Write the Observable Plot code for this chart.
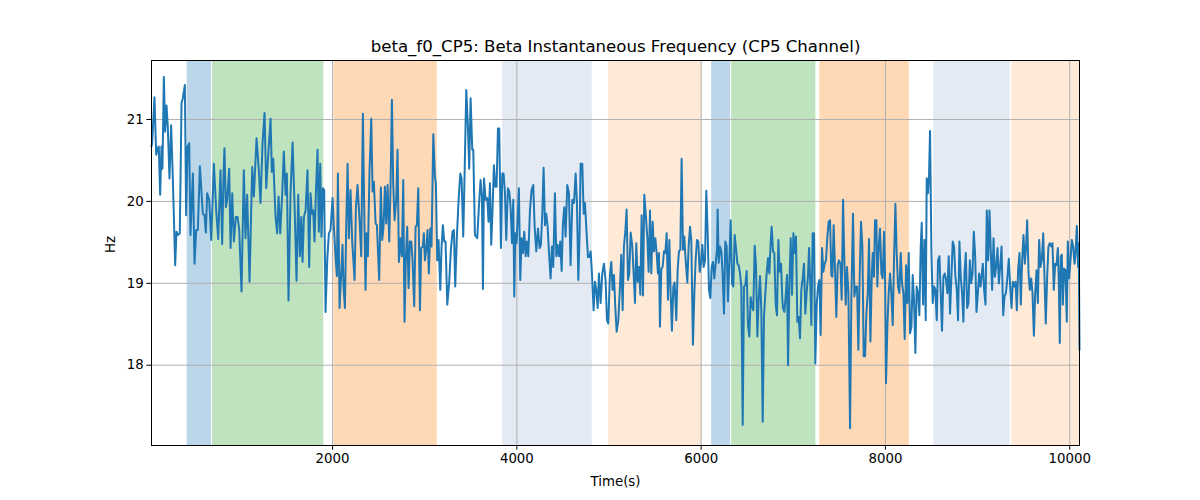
<!DOCTYPE html>
<html><head><meta charset="utf-8">
<script src="https://cdn.jsdelivr.net/npm/d3@7"></script>
<script src="https://cdn.jsdelivr.net/npm/@observablehq/plot@0.6"></script>
<style>body{margin:0;background:#fff} #chart svg{display:block}</style>
</head><body><div id="chart"></div>
<script>
const title = "beta_f0_CP5: Beta Instantaneous Frequency (CP5 Channel)";
const xLabel = "Time(s)";
const yLabel = "Hz";
const xTicks = [2000, 4000, 6000, 8000, 10000];
const yTicks = [18, 19, 20, 21];
const xDomain = [35, 10106];
const yDomain = [17.02, 21.72];

const spanStart = [422, 697, 2014, 3845, 4996, 6114, 6331, 7288, 8524, 9371];
const spanEnd   = [686, 1905, 3136, 4819, 6013, 6320, 7245, 8260, 9353, 10106];
const spanKind  = ["blue", "green", "orange", "blueLight", "orangeLight", "blue", "green", "orange", "blueLight", "orangeLight"];

const timeSec = [
35,42,67,86,104,114,129,143,154,169,183,198,212,230,248,266,292,306,321,342,361,375,397,411,426,444,458,484,502,520,538,560,592,610,625,639,661,683,712,737,759,784,802,817,827,842,856,878,893,911,929,950,969,987,1012,
1037,1055,1073,1099,1128,1146,1175,1200,1218,1240,1262,1280,1298,1327,1341,1356,1381,1399,1414,1432,1453,1471,1490,1504,1522,1544,1566,1587,1609,1627,1645,1660,1674,1689,1707,1728,1746,1761,1775,1790,1804,1819,1837,1851,1866,1880,1895,1909,1924,1942,1960,1978,2000,
2014,2032,2047,2058,2076,2094,2108,2119,2134,2148,2163,2177,2195,2213,2239,2253,2271,2293,2311,2329,2343,2358,2369,2383,2401,2420,2434,2448,2467,2481,2506,2524,2539,2553,2568,2582,2597,2615,2629,2644,2658,2673,2691,2705,2720,2738,2752,2767,2781,2796,2810,2825,2839,2854,2868,2886,2901,2915,2930,2948,2962,2980,2991,
3002,3017,3031,3045,3060,3074,3093,3111,3121,3136,3150,3169,3183,3197,3212,3226,3245,3266,3284,3302,3317,3331,3349,3368,3386,3400,3418,3433,3451,3469,3483,3498,3516,3527,3545,3570,3588,3606,3621,3632,3643,3661,3679,3693,3708,3722,3737,3751,3766,3780,3795,3809,3827,3842,3856,3871,3885,3903,3918,3932,3947,3961,
3972,3983,3997,4022,4037,4051,4066,4080,4095,4109,4124,4142,4160,4178,4193,4211,4229,4247,4261,4276,4290,4305,4319,4334,4348,4366,4381,4395,4413,4428,4442,4457,4471,4486,4500,4515,4529,4547,4565,4583,4602,4620,4638,4652,4667,4681,4692,4710,4725,4739,4757,4772,4786,4801,4815,4833,4848,4862,4877,4891,4909,4927,4945,
4963,4978,4992,5010,5025,5039,5054,5068,5083,5101,5119,5133,5148,5162,5177,5191,5206,5220,5235,5253,5267,5282,5296,5311,5325,5340,5354,5369,5383,5401,5416,5430,5445,5459,5474,5488,5503,5517,5531,5542,5553,5568,5582,5597,5611,5626,5640,5655,5669,5683,5698,5712,5730,5745,5759,5774,5788,5803,5817,5832,5850,5864,5879,5893,5911,
5926,5940,5955,5969,5984,5998,6013,6027,6042,6056,6071,6085,6100,6114,6128,6143,6157,6172,6179,6190,6204,6219,6233,6248,6262,6277,6291,6306,6320,6335,6349,6364,6378,6393,6407,6422,6436,6451,6465,6480,6494,6508,6523,6537,6552,6566,6581,6595,6610,6624,6639,6653,6668,6682,6697,6711,6726,6740,6755,6765,6780,6794,6809,6823,6838,6852,6867,6881,
6888,6903,6917,6932,6943,6957,6972,6986,7001,7015,7029,7044,7058,7073,7087,7102,7116,7131,7145,7160,7171,7185,7196,7210,7225,7239,7254,7268,7283,7297,7312,7326,7341,7355,7370,7384,7399,7413,7424,7438,7453,7467,7482,7496,7511,7525,7540,7554,7569,7583,7598,7616,7630,7648,7663,7677,7692,7706,7721,7735,7750,7764,7779,7793,7808,7822,7837,
7851,7862,7876,7887,7902,7912,7927,7941,7956,7970,7985,7996,8006,8021,8035,8050,8064,8079,8093,8108,8122,8137,8151,8166,8180,8195,8209,8224,8238,8253,8267,8282,8296,8310,8325,8339,8354,8368,8383,8394,8408,8423,8437,8448,8462,8473,8484,8499,8513,8528,8542,8557,8571,8586,8600,8614,8629,8643,8658,8672,8687,8701,8716,8730,8745,8759,8774,8788,8803,8817,8832,8846,
8858,8872,8887,8901,8916,8930,8945,8959,8974,8988,9003,9017,9032,9046,9057,9071,9086,9100,9115,9129,9144,9158,9173,9187,9202,9216,9231,9245,9260,9278,9292,9307,9321,9339,9354,9368,9383,9397,9412,9426,9440,9455,9469,9484,9498,9513,9527,9538,9553,9567,9582,9596,9611,9625,9640,9654,9668,9683,9697,9712,9726,
9740,9755,9769,9784,9798,9813,9827,9842,9856,9871,9881,9892,9903,9914,9925,9939,9954,9968,9979,9994,10008,10023,10037,10052,10062,10077,10091,10098,10106
];

const freqHz = [
20.67,20.71,21.27,20.57,20.65,20.67,20.08,20.67,20.40,21.52,20.85,21.17,20.91,20.28,20.93,20.30,19.22,19.63,19.59,19.61,21.20,21.26,21.42,19.83,20.67,20.71,19.59,20.34,19.24,19.65,19.65,20.43,19.85,19.83,19.62,20.10,20.02,19.53,20.46,19.89,19.54,20.38,19.48,20.34,20.65,19.93,20.02,20.40,19.43,20.10,19.51,19.81,19.81,19.65,18.90,
20.38,19.55,20.08,19.02,20.42,20.06,20.77,20.38,19.98,20.71,21.08,20.16,20.50,21.01,20.36,20.52,19.81,19.61,20.06,19.61,20.08,20.61,20.08,20.34,18.79,20.10,20.72,19.98,19.03,20.08,19.33,19.81,19.26,19.81,19.89,20.38,19.20,20.10,19.85,19.89,19.51,20.10,20.63,19.63,20.46,19.57,20.16,20.14,18.65,19.28,19.61,19.65,20.04,
19.69,19.33,19.09,20.34,18.70,19.12,19.47,18.96,18.70,19.69,20.46,19.55,20.14,19.51,19.04,19.91,20.20,19.77,19.33,21.07,19.93,18.92,19.61,19.33,20.38,21.01,20.12,20.24,19.73,19.71,19.04,20.17,19.53,19.69,20.18,19.73,20.20,19.51,20.18,21.24,20.22,19.77,20.02,20.63,19.26,19.55,19.33,20.26,18.53,19.33,19.69,18.94,19.51,19.51,19.28,18.72,19.69,19.71,20.16,18.67,19.43,19.45,19.61,
19.28,19.41,19.65,19.12,19.67,19.45,20.82,20.30,20.22,19.28,19.53,18.92,19.45,19.71,19.51,19.51,18.74,19.02,19.41,19.63,19.65,18.96,19.57,20.02,20.34,20.28,19.57,20.34,21.36,20.91,20.40,21.26,20.63,20.63,19.59,19.55,19.93,20.26,20.06,18.93,20.28,20.02,20.04,19.75,20.22,19.47,19.93,20.44,20.18,20.18,20.89,20.89,19.43,20.34,20.34,20.10,19.53,20.16,20.12,19.93,19.49,20.02,
18.84,19.61,19.49,20.16,19.04,19.55,19.37,19.63,19.33,19.51,19.33,19.89,20.14,20.20,19.69,19.39,19.67,19.43,19.47,19.85,20.41,19.71,19.85,19.69,19.39,19.06,19.45,19.20,20.10,19.33,19.47,19.33,19.51,19.15,19.73,19.93,19.57,20.20,20.10,19.22,20.02,19.98,20.34,19.98,19.04,19.61,20.46,20.46,19.85,19.98,19.61,19.32,19.32,19.39,19.12,18.67,19.02,18.92,18.70,19.12,18.76,19.12,19.24,
19.04,18.55,18.51,19.10,19.26,18.92,19.10,18.72,18.41,18.55,18.96,19.35,18.67,19.45,19.63,19.90,19.04,19.12,19.62,19.45,19.12,18.76,19.49,19.02,19.20,18.86,19.83,18.85,20.08,19.81,19.55,19.14,19.89,19.12,19.75,19.39,19.55,19.37,19.12,19.37,18.47,19.18,19.20,19.39,19.37,19.61,18.80,19.53,18.88,18.42,18.96,19.01,18.55,19.16,19.39,19.41,20.52,19.41,19.57,19.28,19.01,19.45,19.69,19.53,18.25,
18.88,19.28,19.53,19.51,19.14,19.24,19.47,19.20,19.28,20.13,19.61,18.92,18.82,19.20,19.26,19.06,19.24,19.41,19.90,19.25,19.45,19.39,19.12,18.63,19.51,19.45,18.78,19.28,19.77,19.00,18.96,19.59,19.43,19.24,19.22,19.12,18.96,17.27,18.96,18.98,19.15,18.49,18.35,18.83,18.72,18.67,19.46,19.22,18.35,18.80,19.09,18.67,17.31,18.59,18.88,19.12,19.31,19.12,19.51,19.69,19.39,19.37,18.74,18.61,19.53,19.14,19.24,18.80,
18.70,18.65,18.84,19.10,18.00,18.96,19.55,18.86,19.61,19.37,19.57,18.53,18.59,18.33,18.92,19.06,19.24,18.63,18.88,19.10,19.43,18.96,18.49,19.61,19.61,18.02,18.74,18.96,19.04,18.37,19.43,19.14,19.24,19.28,19.57,19.75,19.77,19.10,19.08,19.71,19.16,18.59,19.22,19.28,19.24,18.80,20.02,19.28,18.74,19.20,18.88,17.23,18.80,19.85,18.84,18.96,18.96,18.19,19.12,19.75,19.45,18.11,18.11,18.63,18.88,19.54,18.29,
19.06,19.37,19.08,19.77,19.77,18.96,19.45,19.67,19.12,19.06,19.63,19.08,17.78,18.47,18.88,19.12,18.88,18.49,19.28,19.97,19.37,18.96,18.88,19.37,19.00,18.88,18.32,19.22,18.76,19.37,18.39,18.47,19.10,18.80,18.15,18.96,18.88,18.61,19.45,19.74,18.74,19.53,18.55,20.28,20.10,20.32,20.86,19.37,18.76,18.96,18.92,18.55,19.28,19.33,18.88,18.42,19.08,19.12,19.04,18.88,19.33,18.63,19.08,19.51,19.45,19.08,18.92,18.55,19.51,19.08,18.88,18.53,
19.12,19.37,18.70,18.76,19.28,19.00,19.12,19.63,19.33,18.65,18.88,19.12,18.96,19.12,19.24,18.92,18.74,19.89,19.28,19.89,19.37,18.92,19.55,19.08,19.20,19.43,19.00,19.20,19.45,18.61,18.84,18.88,19.04,19.30,18.96,18.70,19.02,18.96,19.02,18.67,19.16,19.37,18.74,19.28,19.59,19.24,19.47,19.77,19.12,18.92,19.06,18.88,18.36,18.88,19.16,18.76,19.53,19.20,19.28,19.61,19.08,
18.51,19.08,19.45,19.49,19.45,19.49,18.92,19.24,19.22,19.43,19.04,18.27,19.33,19.35,18.74,19.18,19.16,18.53,19.51,19.06,19.28,19.53,19.45,19.24,19.35,19.70,19.20,19.49,18.19
];

const spanStyle = {
  blue:        {fill: "#1f77b4", opacity: 0.3},
  green:       {fill: "#2ca02c", opacity: 0.3},
  orange:      {fill: "#ff7f0e", opacity: 0.3},
  blueLight:   {fill: "#4c72b0", opacity: 0.15},
  orangeLight: {fill: "#ff7f0e", opacity: 0.16}
};

const spans = spanStart.map((s, i) => ({x1: s, x2: spanEnd[i], kind: spanKind[i]}));
const series = timeSec.map((t, i) => ({t, v: freqHz[i]}));

const chart = Plot.plot({
  width: 1200, height: 500,
  marginTop: 60, marginBottom: 55, marginLeft: 151, marginRight: 121,
  style: {fontFamily: "'DejaVu Sans', sans-serif", fontSize: "13.33px", background: "#fff", color: "black"},
  x: {domain: xDomain},
  y: {domain: yDomain},
  marks: [
    ...Object.entries(spanStyle).map(([k, s]) =>
      Plot.rect(spans.filter(d => d.kind === k), {x1: "x1", x2: "x2", fill: s.fill, fillOpacity: s.opacity})),
    Plot.gridX(xTicks, {stroke: "#b0b0b0", strokeOpacity: 1, strokeWidth: 1}),
    Plot.gridY(yTicks, {stroke: "#b0b0b0", strokeOpacity: 1, strokeWidth: 1}),
    Plot.line(series, {x: "t", y: "v", stroke: "#1f77b4", strokeWidth: 2}),
    Plot.frame({stroke: "black", strokeWidth: 1}),
    Plot.axisX(xTicks, {tickSize: 4.7, tickPadding: 3, label: null, tickFormat: d => String(d)}),
    Plot.axisY(yTicks, {tickSize: 4.7, tickPadding: 3, label: null, tickFormat: d => String(d)}),
    Plot.text([title], {frameAnchor: "top", lineAnchor: "middle", dy: -14, fontSize: 16.6, text: d => d}),
    Plot.text([xLabel], {frameAnchor: "bottom", lineAnchor: "middle", dy: 36, text: d => d}),
    Plot.text([yLabel], {frameAnchor: "left", lineAnchor: "middle", dx: -41, rotate: -90, text: d => d})
  ]
});
document.getElementById("chart").appendChild(chart);
</script>
</body></html>
